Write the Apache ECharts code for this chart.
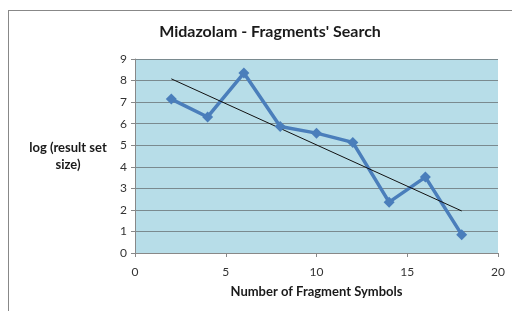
<!DOCTYPE html>
<html>
<head>
<meta charset="utf-8">
<script src="https://cdn.jsdelivr.net/npm/echarts@6/dist/echarts.min.js"></script>
<style>
  html, body { margin: 0; padding: 0; background: #fff; }
  #chart { width: 512px; height: 311px; }
</style>
</head>
<body>
<div id="chart"></div>
<script>
// values
var fragmentSymbols = [2, 4, 6, 8, 10, 12, 14, 16, 18];
var logResultSize = [7.14, 6.31, 8.35, 5.87, 5.56, 5.13, 2.36, 3.52, 0.85];
// linear trendline ends (as drawn)
var trendX = [2, 18];
var trendY = [8.08, 1.95];

(function () {
    var chart = echarts.init(document.getElementById('chart'));

    var points = fragmentSymbols.map(function (x, i) { return [x, logResultSize[i]]; });
    var trend = trendX.map(function (x, i) { return [x, trendY[i]]; });

    var option = {
        animation: false,
        backgroundColor: '#fff',
        title: {
            text: "Midazolam - Fragments' Search",
            left: 265,
            top: 19,
            textAlign: 'center',
            textStyle: {
                fontFamily: 'Lato',
                fontSize: 16,
                fontWeight: 'bold',
                color: '#1a1a1a'
            }
        },
        graphic: [
            { type: 'line', shape: { x1: 8, y1: 10.5, x2: 512, y2: 10.5 }, style: { stroke: '#888', lineWidth: 1 } },
            { type: 'line', shape: { x1: 8.5, y1: 10, x2: 8.5, y2: 311 }, style: { stroke: '#888', lineWidth: 1 } }
        ],
        grid: {
            left: 135,
            right: 14,
            top: 59,
            bottom: 58,
            show: true,
            backgroundColor: '#b7dde8',
            borderWidth: 0
        },
        xAxis: {
            type: 'value',
            min: 0,
            max: 20,
            interval: 5,
            name: 'Number of Fragment Symbols',
            nameLocation: 'middle',
            nameGap: 32,
            nameTextStyle: {
                fontFamily: 'Lato',
                fontSize: 13,
                fontWeight: 'bold',
                color: '#1a1a1a'
            },
            axisLine: { lineStyle: { color: '#888', width: 1 } },
            axisTick: { show: true, length: 4, lineStyle: { color: '#888' } },
            axisLabel: { fontFamily: 'Lato', fontSize: 12, color: '#333', margin: 13 },
            splitLine: { show: false }
        },
        yAxis: {
            type: 'value',
            min: 0,
            max: 9,
            interval: 1,
            name: 'log (result set\nsize)',
            nameLocation: 'middle',
            nameRotate: 0,
            nameGap: 67,
            nameTextStyle: {
                fontFamily: 'Lato',
                fontSize: 13,
                fontWeight: 'bold',
                color: '#1a1a1a',
                align: 'center',
                lineHeight: 17
            },
            axisLine: { show: true, lineStyle: { color: '#888', width: 1 } },
            axisTick: { show: true, length: 4, lineStyle: { color: '#888' } },
            axisLabel: { fontFamily: 'Lato', fontSize: 12, color: '#333', margin: 8 },
            splitLine: { show: true, lineStyle: { color: '#7a8a8f', width: 1 } }
        },
        series: [
            {
                name: 'log (result set size)',
                type: 'line',
                data: points,
                symbol: 'diamond',
                symbolSize: 11,
                lineStyle: { color: '#4a7ebb', width: 3.5 },
                itemStyle: { color: '#4a7ebb' }
            },
            {
                name: 'Linear trend',
                type: 'line',
                data: trend,
                symbol: 'none',
                lineStyle: { color: '#111', width: 1 }
            }
        ]
    };

    chart.setOption(option);
})();
</script>
</body>
</html>
